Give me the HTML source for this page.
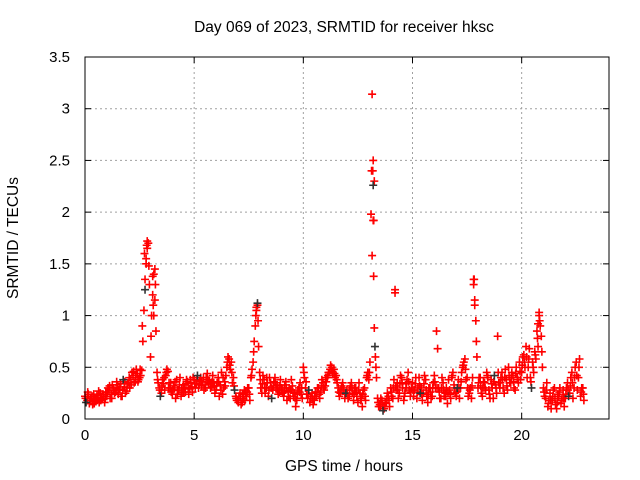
<!DOCTYPE html>
<html><head><meta charset="utf-8"><style>
body{margin:0;background:#fff;}
svg{display:block;font-family:"Liberation Sans",sans-serif;}
</style></head><body>
<svg id="chart" width="640" height="480" viewBox="0 0 640 480" xmlns="http://www.w3.org/2000/svg">
<rect width="640" height="480" fill="#fff"/>
<g id="grid"></g>
<g id="marks"></g>
<g id="axes"></g>
<text x="344" y="32" font-size="15.5" text-anchor="middle">Day 069 of 2023, SRMTID for receiver hksc</text>
<text x="344" y="471" font-size="15.5" text-anchor="middle">GPS time / hours</text>
<text x="18" y="238" font-size="15.5" text-anchor="middle" transform="rotate(-90 18 238)">SRMTID / TECUs</text>
</svg>
<script>
const xTicks=[0,5,10,15,20];
const yTicks=[0,0.5,1,1.5,2,2.5,3,3.5];
const yTickLabels=["0","0.5","1","1.5","2","2.5","3","3.5"];
const valsA=[0.22,0.18,0.15,0.20,0.24,0.17,0.21,0.25,0.19,0.16,
0.22,0.28,0.24,0.30,0.26,0.33,0.29,0.22,0.31,0.27,
0.35,0.38,0.42,0.36,0.44,0.40,0.47,1.05,1.55,1.70,
0.60,1.20,1.45,0.45,0.30,0.25,0.34,0.42,0.46,0.30,
0.24,0.30,0.38,0.28,0.22,0.33,0.26,0.36,0.29,0.31,
0.38,0.34,0.30,0.40,0.36,0.33,0.44,0.37,0.31,0.35,
0.28,0.40,0.33,0.24,0.36,0.50,0.58,0.55,0.40,0.22,
0.18,0.25,0.16,0.28,0.22,0.30,0.40,0.55,0.90,1.10,
0.45,0.25,0.38,0.30,0.22,0.35,0.28,0.40,0.33,0.26,
0.30,0.22,0.36,0.27,0.20,0.32,0.25,0.18,0.30,0.24,
0.50,0.30,0.20,0.16,0.25,0.18,0.22,0.30,0.26,0.35,
0.32,0.40,0.45,0.50,0.48,0.42,0.30,0.25,0.35,0.20,
0.28,0.22,0.35,0.18,0.30,0.16,0.25,0.12,0.30,0.40,
0.38,1.98,2.50,0.60,0.20,0.14,0.18,0.10,0.15,0.22,
0.30,0.20,1.25,0.35,0.25,0.40,0.18,0.30,0.45,0.22,
0.35,0.28,0.20,0.40,0.30,0.25,0.38,0.16,0.30,0.22,
0.42,0.85,0.30,0.20,0.35,0.25,0.15,0.28,0.40,0.33,
0.22,0.38,0.30,0.50,0.58,0.40,0.25,0.20,1.30,0.95,
0.30,0.40,0.22,0.35,0.45,0.28,0.38,0.20,0.33,0.80,
0.30,0.45,0.25,0.38,0.50,0.35,0.42,0.28,0.40,0.55,
0.45,0.62,0.70,0.50,0.40,0.55,0.65,0.85,1.00,0.80,
0.30,0.20,0.12,0.25,0.18,0.30,0.10,0.22,0.15,0.28,
0.20,0.35,0.25,0.45,0.30,0.55,0.40,0.22,0.30];
const valsB=[0.16,0.24,0.20,0.14,0.19,0.23,0.16,0.20,0.22,0.26,
0.30,0.20,0.33,0.25,0.36,0.28,0.22,0.38,0.25,0.34,
0.30,0.45,0.35,0.48,0.38,0.42,0.75,1.35,1.72,1.30,
1.00,1.40,0.85,0.35,0.22,0.38,0.28,0.48,0.35,0.26,
0.32,0.20,0.28,0.40,0.26,0.30,0.38,0.24,0.35,0.40,
0.30,0.42,0.37,0.32,0.28,0.40,0.35,0.30,0.42,0.25,
0.35,0.22,0.45,0.30,0.42,0.60,0.48,0.35,0.28,0.18,
0.22,0.14,0.20,0.26,0.30,0.18,0.48,0.75,1.08,0.70,
0.30,0.42,0.25,0.35,0.40,0.20,0.36,0.30,0.24,0.38,
0.25,0.33,0.18,0.30,0.38,0.22,0.12,0.28,0.35,0.20,
0.40,0.24,0.28,0.20,0.14,0.26,0.30,0.20,0.38,0.28,
0.36,0.45,0.52,0.44,0.40,0.35,0.22,0.32,0.28,0.25,
0.20,0.32,0.25,0.30,0.22,0.35,0.20,0.28,0.18,0.45,
0.55,3.14,2.30,0.40,0.12,0.20,0.08,0.16,0.25,0.12,
0.22,0.38,0.28,0.20,0.42,0.30,0.25,0.38,0.28,0.30,
0.22,0.40,0.30,0.25,0.18,0.42,0.22,0.30,0.20,0.35,
0.30,0.68,0.20,0.40,0.22,0.30,0.38,0.20,0.45,0.25,
0.30,0.20,0.45,0.55,0.38,0.22,0.30,0.40,1.15,0.60,
0.40,0.25,0.36,0.28,0.40,0.20,0.30,0.42,0.25,0.35,
0.40,0.30,0.48,0.28,0.35,0.45,0.30,0.50,0.35,0.38,
0.60,0.50,0.40,0.68,0.30,0.45,0.58,0.70,0.90,0.50,
0.22,0.35,0.18,0.10,0.28,0.14,0.24,0.30,0.20,0.12,
0.30,0.22,0.40,0.20,0.50,0.28,0.58,0.30,0.18];
const valsC=[0.20,0.26,0.18,0.22,0.15,0.20,0.27,0.18,0.24,0.20,
0.26,0.32,0.20,0.28,0.30,0.24,0.34,0.28,0.36,0.30,
0.40,0.33,0.46,0.40,0.36,0.48,0.90,1.60,1.68,1.48,
0.80,1.10,1.30,0.38,0.28,0.32,0.40,0.45,0.30,0.35,
0.28,0.36,0.24,0.33,0.30,0.26,0.34,0.30,0.38,0.26,
0.34,0.38,0.33,0.36,0.40,0.30,0.38,0.34,0.36,0.32,
0.32,0.36,0.28,0.40,0.32,0.55,0.52,0.45,0.32,0.20,
0.16,0.22,0.24,0.18,0.26,0.24,0.42,0.65,1.00,0.95,
0.38,0.34,0.30,0.40,0.28,0.30,0.32,0.35,0.28,0.32,
0.28,0.26,0.30,0.22,0.28,0.26,0.20,0.24,0.26,0.30,
0.45,0.36,0.24,0.22,0.20,0.22,0.26,0.24,0.32,0.30,
0.40,0.42,0.48,0.46,0.44,0.38,0.26,0.28,0.30,0.24,
0.24,0.28,0.30,0.24,0.26,0.28,0.18,0.24,0.22,0.42,
0.45,2.40,1.92,0.50,0.16,0.12,0.14,0.12,0.20,0.18,
0.26,0.30,0.32,0.28,0.34,0.35,0.22,0.34,0.36,0.26,
0.28,0.34,0.26,0.32,0.24,0.34,0.28,0.24,0.26,0.30,
0.36,0.30,0.26,0.30,0.28,0.22,0.26,0.24,0.42,0.30,
0.26,0.30,0.36,0.52,0.48,0.30,0.28,0.32,1.35,0.75,
0.35,0.32,0.30,0.30,0.42,0.24,0.34,0.36,0.30,0.45,
0.35,0.38,0.40,0.32,0.42,0.40,0.36,0.44,0.38,0.46,
0.52,0.55,0.60,0.58,0.36,0.50,0.62,0.78,0.95,0.65,
0.26,0.28,0.15,0.18,0.22,0.20,0.16,0.26,0.18,0.20,
0.24,0.28,0.32,0.35,0.40,0.42,0.50,0.26,0.24];
const spikeTimes=[13.15,13.2,13.18,13.2,13.22,13.25,13.28,2.8,3.15,17.8,14.2,2.75,2.85,3.1,3.2,7.85,7.9,17.85,20.75,20.8];
const spikeVals=[1.58,2.26,2.40,1.92,1.38,0.88,0.70,1.50,1.00,1.35,1.22,1.25,1.65,1.38,1.15,1.05,1.12,1.10,0.92,1.03];

const L=85,R=609,T=57,B=419,XMAX=24,YMAX=3.5;
const sx=v=>L+(R-L)*v/XMAX;
const sy=v=>B-(B-T)*v/YMAX;
const NS="http://www.w3.org/2000/svg";
function mk(tag,attrs,parent){const e=document.createElementNS(NS,tag);for(const k in attrs)e.setAttribute(k,attrs[k]);parent.appendChild(e);return e;}
const grid=document.getElementById('grid'),axes=document.getElementById('axes'),marks=document.getElementById('marks');
xTicks.forEach(t=>{
  if(t>0){const g=mk('line',{x1:sx(t),x2:sx(t),y1:T,y2:B,stroke:'#a0a0a0','stroke-dasharray':'2,3'},grid);
  
  }
  mk('line',{x1:sx(t),x2:sx(t),y1:B,y2:B-6,stroke:'#000'},axes);
  mk('line',{x1:sx(t),x2:sx(t),y1:T,y2:T+6,stroke:'#000'},axes);
  const tx=mk('text',{x:sx(t),y:B+21,'font-size':'15','text-anchor':'middle'},axes);
  tx.textContent=String(t);
  
  
});
yTicks.forEach((t,i)=>{
  if(t>0&&t<YMAX){const g=mk('line',{x1:L,x2:R,y1:sy(t),y2:sy(t),stroke:'#a0a0a0','stroke-dasharray':'2,3'},grid);
  
  }
  mk('line',{x1:L,x2:L+6,y1:sy(t),y2:sy(t),stroke:'#000'},axes);
  mk('line',{x1:R,x2:R-6,y1:sy(t),y2:sy(t),stroke:'#000'},axes);
  const tx=mk('text',{x:70,y:sy(t)+5,'font-size':'15','text-anchor':'end'},axes);
  tx.textContent=yTickLabels[i];
  
  
});
const border=mk('rect',{x:L,y:T,width:R-L,height:B-T,fill:'none',stroke:'#000'},axes);


function plus(t,v,color){
  const x=sx(t),y=sy(v);
  const p=mk('path',{d:`M${x-4},${y}H${x+4}M${x},${y-4}V${y+4}`,stroke:color,'stroke-width':'1.6',fill:'none'},marks);
  
  
}
valsA.forEach((v,i)=>plus(i*0.1,v,'#ff0000'));
valsC.forEach((v,i)=>plus(i*0.1+0.025,v,'#ff0000'));
valsB.forEach((v,i)=>plus(i*0.1+0.05,v,i%17===0?'#333':'#ff0000'));
spikeTimes.forEach((t,i)=>plus(t,spikeVals[i],i%5===1?'#333':'#ff0000'));
</script>
</body></html>
